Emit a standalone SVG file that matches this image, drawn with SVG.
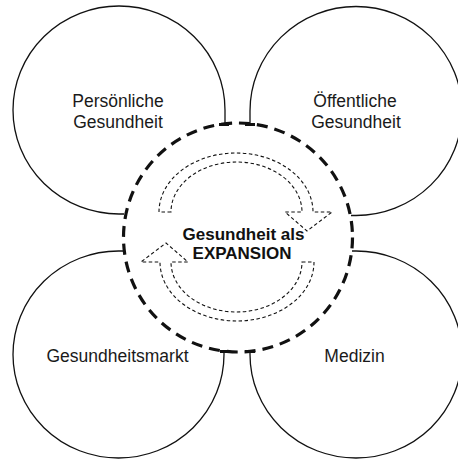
<svg xmlns="http://www.w3.org/2000/svg" width="458" height="460" viewBox="0 0 458 460">
<style>
.ring{fill:none;stroke:#111;stroke-width:1.3}
.lbl{font-family:"Liberation Sans",Arial,sans-serif;font-size:17.5px;fill:#1a1a1a;text-anchor:middle}
.ctr{font-family:"Liberation Sans",Arial,sans-serif;font-size:17px;font-weight:bold;fill:#111;text-anchor:middle}
.core{fill:none;stroke:#111;stroke-width:3.2;stroke-dasharray:11 7}
.arr{fill:none;stroke:#111;stroke-width:1.1;stroke-dasharray:3.5 2.5}
</style>
<rect width="458" height="460" fill="#fff"/>
<g id="persoenliche-gesundheit">
<path class="ring" d="M225,110 A106,104 0 1 0 119,214 L124,214 M225,110 L225,124"/>
<text class="lbl" x="118" y="107">Persönliche</text>
<text class="lbl" x="118" y="128">Gesundheit</text>
</g>
<g id="oeffentliche-gesundheit">
<path class="ring" d="M250,111 A106,104.5 0 1 1 356,215.5 L351,215.5 M250,111 L250,124"/>
<text class="lbl" x="355" y="107">Öffentliche</text>
<text class="lbl" x="356" y="128">Gesundheit</text>
</g>
<g id="gesundheitsmarkt">
<path class="ring" d="M224,354.5 A105.5,103.5 0 1 1 118.5,251 L123,251 M224,354.5 L224,352"/>
<text class="lbl" x="117.5" y="362">Gesundheitsmarkt</text>
</g>
<g id="medizin">
<path class="ring" d="M250,354.5 A106,103.5 0 1 0 356,251 L352,251 M250,354.5 L250,352"/>
<text class="lbl" x="354.5" y="362">Medizin</text>
</g>
<g id="connectors">
<circle class="core" cx="238" cy="237.5" r="114.5"/>
<path d="M219,124.5 H229 M245,124.5 H255 M220,351.5 H229 M245,351.5 H255" stroke="#111" stroke-width="3"/>
<path id="arrow-top" class="arr" d="M171,212 L159,212 A77,59 0 0 1 313,212 L332,212 L307,231 L285,212 L302,212 A65.5,50 0 0 0 171,212 Z"/>
<path id="arrow-bottom" class="arr" transform="rotate(180 236.5 237)" d="M171,212 L159,212 A77,59 0 0 1 313,212 L332,212 L307,231 L285,212 L302,212 A65.5,50 0 0 0 171,212 Z"/>
</g>
<g id="center">
<text class="ctr" x="243.5" y="240">Gesundheit als</text>
<text class="ctr" x="242" y="259">EXPANSION</text>
</g>
</svg>
